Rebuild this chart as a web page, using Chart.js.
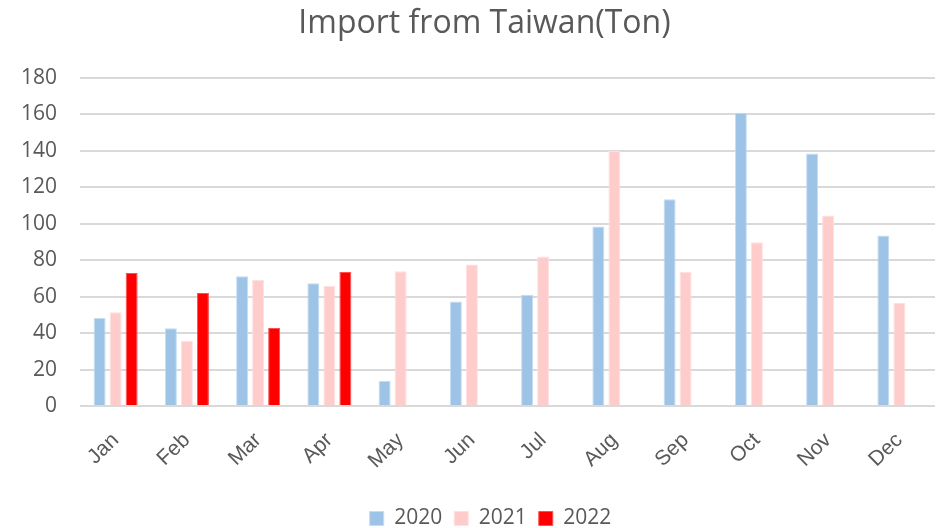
<!DOCTYPE html>
<html>
<head>
<meta charset="utf-8">
<title>Import from Taiwan(Ton)</title>
<script src="https://cdn.jsdelivr.net/npm/chart.js@4.4.1/dist/chart.umd.min.js"></script>
<style>
    html, body { margin: 0; padding: 0; background: #fff; }
    #wrap { width: 942px; height: 528px; position: relative; }
</style>
</head>
<body>
<div id="wrap"><canvas id="myChart"></canvas></div>
<script>
// du lieu doc tu hinh
const months = ['Jan', 'Feb', 'Mar', 'Apr', 'May', 'Jun', 'Jul', 'Aug', 'Sep', 'Oct', 'Nov', 'Dec']
const y2020 = [48.3, 42.6, 71.2, 67.3, 13.8, 57.3, 61, 98.5, 113.5, 160.9, 138.5, 93.6]
const y2021 = [51.4, 35.8, 69.2, 65.9, 74, 77.6, 82, 140, 73.7, 89.9, 104.6, 56.5]
const y2022 = [73, 62, 42.8, 73.6, null, null, null, null, null, null, null, null]
const yTicks = [0, 20, 40, 60, 80, 100, 120, 140, 160, 180]

const textColor = '#595959'
const gridColor = '#d9d9d9'

// title va legend trong hinh goc lech sang phai mot chut
const shiftBoxes = {
    id: 'shiftBoxes',
    afterLayout(chart) {
        chart.titleBlock.left += 34
        chart.legend.left += 46
        chart.legend.top += 11
    }
}

const ctx = document.getElementById('myChart').getContext('2d')
const char = new Chart(ctx, {
    type: 'bar',
    data: {
        labels: months,
        datasets: [{
            label: '2020',
            data: y2020,
            backgroundColor: '#9dc3e6',
            borderColor: '#c5dcf1',
            borderWidth: 1
        }, {
            label: '2021',
            data: y2021,
            backgroundColor: '#ffcccc',
            borderColor: '#ffe0e0',
            borderWidth: 1
        }, {
            label: '2022',
            data: y2022,
            backgroundColor: '#ff0000',
            borderColor: '#ff5050',
            borderWidth: 1
        }]
    },
    plugins: [shiftBoxes],
    options: {
        responsive: true,
        maintainAspectRatio: false,
        animation: false,
        categoryPercentage: 0.674,
        barPercentage: 0.75,
        layout: {
            padding: { left: 0, right: 7, top: 0, bottom: 0 }
        },
        plugins: {
            title: {
                display: true,
                text: 'Import from Taiwan(Ton)',
                color: textColor,
                font: { family: 'Open Sans', size: 32, weight: 'normal' },
                padding: { top: 5, bottom: 34.6 }
            },
            legend: {
                position: 'bottom',
                labels: {
                    color: textColor,
                    boxWidth: 14,
                    boxHeight: 14,
                    padding: 12,
                    font: { family: 'Open Sans', size: 21 }
                }
            },
            tooltip: { enabled: false }
        },
        scales: {
            x: {
                grid: { display: false },
                border: { display: false },
                ticks: {
                    color: textColor,
                    font: { family: 'Liberation Sans', size: 21 },
                    minRotation: 44,
                    maxRotation: 44,
                    padding: 14
                },
                afterFit: function(scale) {
                    scale.height = 79
                }
            },
            y: {
                min: 0,
                max: 180,
                grid: { color: gridColor, lineWidth: 2, drawTicks: false },
                border: { display: false },
                afterBuildTicks: function(scale) {
                    scale.ticks = yTicks.map(v => ({ value: v }))
                },
                ticks: {
                    color: textColor,
                    font: { family: 'Open Sans', size: 21 },
                    padding: 23
                },
                afterFit: function(scale) {
                    scale.width = 80
                }
            }
        }
    }
})
</script>
</body>
</html>
